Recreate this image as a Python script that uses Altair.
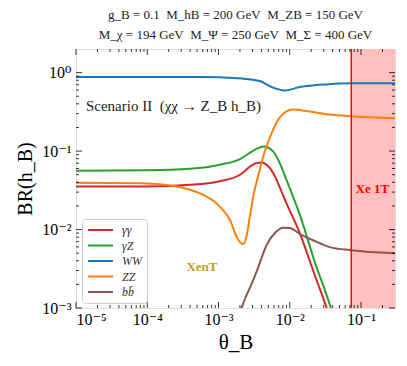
import altair as alt
import pandas as pd

# ---- data ----
theta_gg = [1e-5, 1e-4, 4e-4, 1e-3, 2.0e-3, 2.75e-3, 3.42e-3, 4.06e-3, 4.73e-3, 5.85e-3, 7.2e-3, 9.0e-3, 1.39e-2, 2.25e-2, 3.31e-2, 3.77e-2]
br_gg = [0.0353, 0.0354, 0.0371, 0.0409, 0.0499, 0.0631, 0.0704, 0.0716, 0.067, 0.0524, 0.035, 0.0216, 0.0089, 0.0026, 0.00099, 0.00069]

theta_gz = [1e-5, 1e-4, 4e-4, 1.05e-3, 2.0e-3, 2.75e-3, 3.42e-3, 4.34e-3, 5.85e-3, 7.2e-3, 9.0e-3, 1.39e-2, 2.25e-2, 3.77e-2, 4.3e-2]
br_gz = [0.0561, 0.0569, 0.0595, 0.067, 0.0792, 0.0946, 0.1064, 0.1148, 0.099, 0.071, 0.043, 0.0153, 0.00384, 0.001, 0.00066]

theta_ww = [1e-5, 1e-4, 5.5e-4, 1.05e-3, 2.0e-3, 3.81e-3, 4.73e-3, 5.85e-3, 8.53e-3, 1.39e-2, 3.28e-2, 7.2e-2, 0.3]
br_ww = [0.879, 0.879, 0.879, 0.870, 0.845, 0.780, 0.708, 0.643, 0.593, 0.654, 0.708, 0.730, 0.730]

theta_zz = [1e-5, 7.9e-5, 2.29e-4, 4e-4, 6.8e-4, 8.9e-4, 1.15e-3, 1.45e-3, 1.8e-3, 2.0e-3, 2.22e-3, 2.48e-3, 2.75e-3, 3.07e-3, 3.57e-3, 4.24e-3, 4.93e-3, 5.85e-3, 7.26e-3, 1.1e-2, 1.91e-2, 3.65e-2, 7.2e-2, 0.3]
br_zz = [0.0394, 0.039, 0.0361, 0.0321, 0.0263, 0.0225, 0.0178, 0.0132, 0.0081, 0.0069, 0.0065, 0.0083, 0.0145, 0.0263, 0.047, 0.0855, 0.128, 0.188, 0.268, 0.339, 0.319, 0.292, 0.278, 0.262]

theta_bb = [1.87e-3, 2.11e-3, 3.07e-3, 3.57e-3, 4.73e-3, 6.18e-3, 8.07e-3, 1.0e-2, 1.39e-2, 2.25e-2, 3.65e-2, 7.2e-2, 0.3]
br_bb = [0.00069, 0.001, 0.00226, 0.00321, 0.00634, 0.00902, 0.01055, 0.01045, 0.00875, 0.00713, 0.00597, 0.00546, 0.0050]

series_names = ["γγ", "γZ", "WW", "ZZ", "bb̄"]
series_colors = ["#d62728", "#2ca02c", "#1f77b4", "#ff7f0e", "#8c564b"]

xe1t_limit = 0.073
x_domain = [1e-5, 0.3]
y_domain = [1e-3, 2.0]

x_major = [1e-5, 1e-4, 1e-3, 1e-2, 1e-1]
y_major = [1e-3, 1e-2, 1e-1, 1.0]
x_minor = [k * 10.0 ** e for e in range(-5, -1) for k in range(2, 10)] + [0.2]
y_minor = [k * 10.0 ** e for e in range(-3, 0) for k in range(2, 10)]

SP = "\u00a0\u00a0"
title_lines = ["g_B = 0.1" + SP + "M_hB = 200 GeV" + SP + "M_ZB = 150 GeV",
               "M_χ = 194 GeV" + SP + "M_Ψ = 250 GeV" + SP + "M_Σ = 400 GeV"]

# ---- build tables ----
rows = []
for name, th, br in zip(series_names,
                        [theta_gg, theta_gz, theta_ww, theta_zz, theta_bb],
                        [br_gg, br_gz, br_ww, br_zz, br_bb]):
    for t, b in zip(th, br):
        rows.append({"theta": t, "br": b, "channel": name})
df = pd.DataFrame(rows)

W, H = 319, 259
SERIF = "Liberation Serif, DejaVu Serif, serif"

xs = alt.Scale(type="log", domain=x_domain, nice=False)
ys = alt.Scale(type="log", domain=y_domain, nice=False)

x_axis = alt.Axis(values=x_major, ticks=False, domain=False, grid=False,
                  labelExpr="'10' + ['⁻⁵','⁻⁴','⁻³','⁻²','⁻¹','⁰'][round(log(datum.value)/LN10)+5]",
                  labelFont=SERIF, labelFontSize=16, labelPadding=3, labelColor="black",
                  title="θ_B", titleFont=SERIF, titleFontSize=21, titleFontWeight="normal",
                  titlePadding=4, titleColor="black")
y_axis = alt.Axis(values=y_major, ticks=False, domain=False, grid=False,
                  labelExpr="'10' + ['⁻³','⁻²','⁻¹','⁰'][round(log(datum.value)/LN10)+3]",
                  labelFont=SERIF, labelFontSize=16, labelPadding=5, labelColor="black",
                  title="BR(h_B)", titleFont=SERIF, titleFontSize=20, titleFontWeight="normal",
                  titlePadding=6, titleColor="black")

band = alt.Chart(pd.DataFrame({"theta": [xe1t_limit], "theta2": [x_domain[1]]})).mark_rect(
    color="#ffbfbf").encode(
    x=alt.X("theta:Q", scale=xs, axis=x_axis), x2="theta2:Q",
    y=alt.value(0), y2=alt.value(H))

lines = alt.Chart(df).mark_line(clip=True, strokeWidth=2, interpolate="monotone").encode(
    x=alt.X("theta:Q", scale=xs, axis=x_axis),
    y=alt.Y("br:Q", scale=ys, axis=y_axis),
    color=alt.Color("channel:N",
                    scale=alt.Scale(domain=series_names, range=series_colors),
                    legend=alt.Legend(title=None, orient="none", legendX=6, legendY=170,
                                      symbolType="stroke", symbolSize=625, symbolStrokeWidth=2,
                                      clipHeight=12, rowPadding=3.5, padding=5,
                                      labelFont=SERIF, labelFontStyle="italic", labelFontSize=12,
                                      labelColor="#333", labelOffset=8,
                                      fillColor="rgba(255,255,255,0.8)", strokeColor="#cccccc",
                                      cornerRadius=3)),
    detail="channel:N")

vline = alt.Chart(pd.DataFrame({"theta": [xe1t_limit]})).mark_rule(
    color="#ff0000", strokeWidth=1.5).encode(
    x=alt.X("theta:Q", scale=xs), y=alt.value(0), y2=alt.value(H))

scen = alt.Chart(pd.DataFrame({"theta": [1.38e-5], "br": [0.37],
                               "t": ["Scenario II" + SP + "(χχ → Z_B h_B)"]})).mark_text(
    align="left", baseline="middle", font=SERIF, fontSize=15, color="#222").encode(
    x=alt.X("theta:Q", scale=xs), y=alt.Y("br:Q", scale=ys), text="t:N")

xent = alt.Chart(pd.DataFrame({"theta": [5.85e-4], "br": [0.00334], "t": ["XenT"]})).mark_text(
    align="center", baseline="middle", font=SERIF, fontSize=13, fontWeight="bold",
    color="#c49a22").encode(
    x=alt.X("theta:Q", scale=xs), y=alt.Y("br:Q", scale=ys), text="t:N")

xe1t = alt.Chart(pd.DataFrame({"theta": [0.144], "br": [0.0327], "t": ["Xe 1T"]})).mark_text(
    align="center", baseline="middle", font=SERIF, fontSize=13, fontWeight="bold",
    color="#ff0000").encode(
    x=alt.X("theta:Q", scale=xs), y=alt.Y("br:Q", scale=ys), text="t:N")


def xticks(vals, length):
    d = pd.DataFrame({"theta": vals})
    bottom = alt.Chart(d).mark_rule(color="black", strokeWidth=0.8).encode(
        x=alt.X("theta:Q", scale=xs), y=alt.value(H), y2=alt.value(H - length))
    top = alt.Chart(d).mark_rule(color="black", strokeWidth=0.8).encode(
        x=alt.X("theta:Q", scale=xs), y=alt.value(0), y2=alt.value(length))
    return [bottom, top]


def yticks(vals, length):
    d = pd.DataFrame({"br": vals})
    left = alt.Chart(d).mark_rule(color="black", strokeWidth=0.8).encode(
        y=alt.Y("br:Q", scale=ys), x=alt.value(0), x2=alt.value(length))
    right = alt.Chart(d).mark_rule(color="black", strokeWidth=0.8).encode(
        y=alt.Y("br:Q", scale=ys), x=alt.value(W), x2=alt.value(W - length))
    return [left, right]


tick_layers = xticks(x_major, 6) + xticks(x_minor, 3) + yticks(y_major, 6) + yticks(y_minor, 3)

chart = alt.layer(band, lines, vline, scen, xent, xe1t, *tick_layers).properties(
    width=W, height=H,
    padding={"left": 68, "top": 41, "right": 4, "bottom": 50},
    autosize=alt.AutoSizeParams(type="none"),
    title=alt.TitleParams(text=title_lines, anchor="middle", font=SERIF, fontSize=13,
                          fontWeight="normal", lineHeight=20, offset=6, color="#222"),
).configure_view(fill="#fef8e0", stroke="black", strokeWidth=1.5).configure(background="white")

chart.save("out.html", embed_options={"renderer": "svg", "actions": False})
